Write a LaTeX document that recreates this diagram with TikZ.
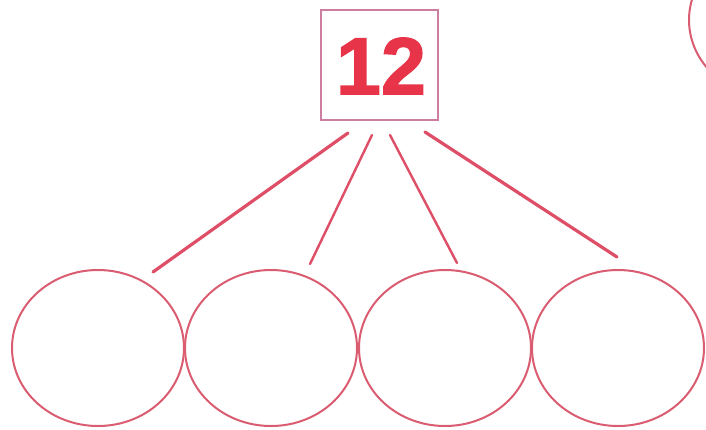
\documentclass[tikz,border=0pt]{standalone}
\usepackage{fontspec}
\newfontfamily\numfont[FakeBold=1.6]{Liberation Sans Bold}
\usetikzlibrary{shapes.geometric}
\definecolor{linered}{RGB}{222,78,102}
\definecolor{ringred}{RGB}{218,92,112}
\definecolor{boxpink}{RGB}{205,125,160}
\definecolor{numred}{RGB}{232,52,72}
\begin{document}
\begin{tikzpicture}[x=1pt,y=-1pt,
  ring/.style={draw=ringred, line width=2pt, ellipse, minimum width=172pt, minimum height=156pt, inner sep=0pt},
  link/.style={draw=linered, line width=3.2pt, line cap=round},
  numbox/.style={draw=boxpink, line width=2pt, minimum width=117pt, minimum height=110pt, inner sep=0pt}]
\useasboundingbox (0,0) rectangle (706,429);
\node[numbox] (top) at (379,65) {};
\node[text=numred, font=\numfont\fontsize{81}{81}\selectfont] (num) at (381,66) {12};
\node[ring] (c1) at (98,348) {};
\node[ring] (c2) at (271,348) {};
\node[ring] (c3) at (445,348) {};
\node[ring] (c4) at (618,348) {};
\begin{scope}
\clip (0,0) rectangle (706,429);
\node[ring] (c5) at (775,20) {};
\end{scope}
\coordinate (s1) at (348,133);
\coordinate (e1) at (153,272);
\coordinate (s2) at (372,135);
\coordinate (e2) at (310,264);
\coordinate (s3) at (390,135);
\coordinate (e3) at (457,263);
\coordinate (s4) at (425,132);
\coordinate (e4) at (617,257);
\draw[link] (s1) -- (e1);
\draw[link, line width=2.4pt] (s2) -- (e2);
\draw[link, line width=2.4pt] (s3) -- (e3);
\draw[link] (s4) -- (e4);
\end{tikzpicture}
\end{document}
